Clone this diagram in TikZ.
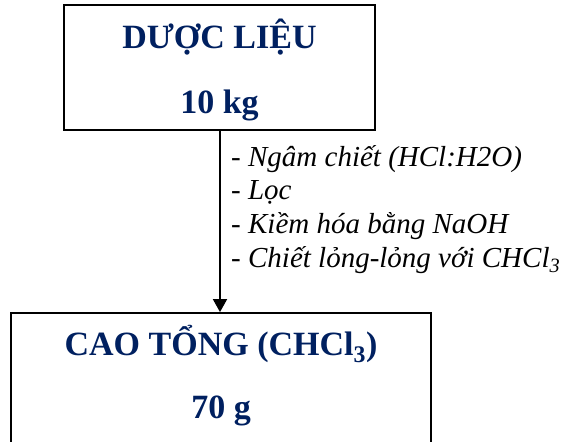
\documentclass[tikz,border=0pt]{standalone}
\usepackage{fontspec}
\setmainfont{Liberation Serif}
\usetikzlibrary{positioning,arrows.meta}

\definecolor{navy}{HTML}{002060}

\begin{document}
\begin{tikzpicture}[
    x=1pt, y=-1pt,
    stagebox/.style={
        rectangle, draw=black, line width=1.8pt, fill=none,
        inner sep=0pt
    },
    stagetext/.style={
        font=\fontsize{34}{40}\selectfont\bfseries, text=navy,
        anchor=base, inner sep=0pt
    },
    steplist/.style={
        font=\fontsize{29}{33.7}\selectfont\itshape, align=left,
        anchor=north west, inner sep=0pt
    },
    arr/.style={-{Triangle[width=14pt,length=13pt]}, line width=1.8pt}
]
\useasboundingbox (0,0) rectangle (563,442);

% Starting material
\node[stagebox, minimum width=311pt, minimum height=125pt] (raw) at (219.5,67.5) {};
\node[stagetext] (raw_name) at (219.5,48) {DƯỢC LIỆU};
\node[stagetext] (raw_mass) at (219.5,113) {10 kg};

% Crude extract (box runs off the lower edge)
\node[stagebox, minimum width=420pt, minimum height=136pt] (ext) at (221,381) {};
\node[stagetext] (ext_name) at (221,355) {CAO TỔNG (CHCl\textsubscript{3})};
\node[stagetext] (ext_mass) at (221,418) {70 g};

% Processing steps
\node[steplist] (steps) at (231,145)
    {- Ngâm chiết (HCl:H2O)\\
     - Lọc\\
     - Kiềm hóa bằng NaOH\\
     - Chiết lỏng-lỏng với CHCl\textsubscript{3}};

\draw[arr] (raw.south -| 220,0) -- (220,0 |- ext.north);

\end{tikzpicture}
\end{document}
